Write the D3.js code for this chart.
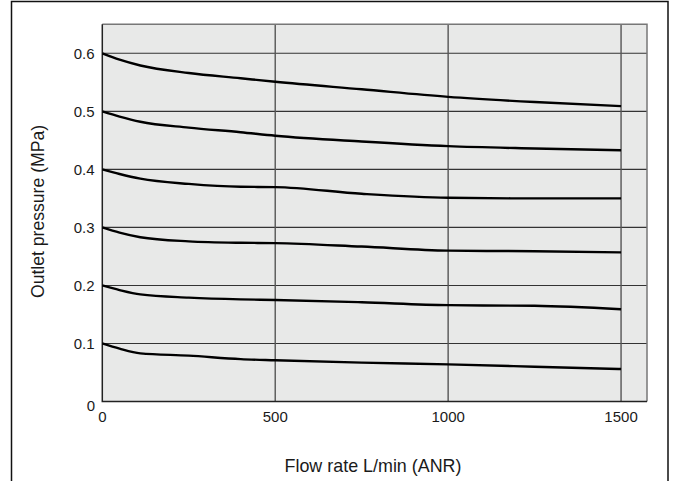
<!DOCTYPE html>
<html>
<head>
<meta charset="utf-8">
<script src="https://cdn.jsdelivr.net/npm/d3@7"></script>
<style>
  html, body { margin: 0; padding: 0; background: #fff; }
  svg { display: block; font-family: "Liberation Sans", Arial, Helvetica, sans-serif; }
</style>
</head>
<body>
<svg id="chart" width="676" height="481"></svg>
<script>
// ---- data ----
const flowRates = [0, 50, 110, 250, 400, 500, 750, 1000, 1250, 1500];
const curve06 = [0.600, 0.589, 0.579, 0.566, 0.557, 0.551, 0.538, 0.525, 0.516, 0.509];
const curve05 = [0.500, 0.491, 0.482, 0.472, 0.464, 0.458, 0.448, 0.440, 0.436, 0.433];
const curve04 = [0.400, 0.392, 0.384, 0.375, 0.370, 0.3695, 0.358, 0.351, 0.350, 0.350];
const curve03 = [0.300, 0.291, 0.283, 0.276, 0.2735, 0.273, 0.267, 0.260, 0.259, 0.257];
const curve02 = [0.200, 0.192, 0.1845, 0.179, 0.176, 0.175, 0.171, 0.166, 0.165, 0.159];
const curve01 = [0.100, 0.091, 0.083, 0.079, 0.073, 0.071, 0.067, 0.064, 0.060, 0.056];
const xTicks = [0, 500, 1000, 1500];
const yTicks = [0, 0.1, 0.2, 0.3, 0.4, 0.5, 0.6];
const xTitle = "Flow rate L/min (ANR)";
const yTitle = "Outlet pressure (MPa)";

const series = [curve06, curve05, curve04, curve03, curve02, curve01];

// ---- layout ----
const svg = d3.select("#chart");
const pL = 102.3, pR = 647, pT = 24.3, pB = 401.5;

const x = d3.scaleLinear().domain([0, 1575]).range([pL, pR]);
const y = d3.scaleLinear().domain([0, 0.65]).range([pB, pT]);

// outer frame (no bottom edge visible)
svg.append("path")
  .attr("d", `M11.5,481 L11.5,1.5 L668,1.5 L668,481`)
  .attr("fill", "none").attr("stroke", "#111").attr("stroke-width", 1.5);

// plot background
svg.append("rect")
  .attr("x", pL).attr("y", pT)
  .attr("width", pR - pL).attr("height", pB - pT)
  .attr("fill", "#e8e9e8");

// horizontal grid
svg.append("g").selectAll("line")
  .data(yTicks.filter(d => d > 0))
  .join("line")
  .attr("x1", pL).attr("x2", pR)
  .attr("y1", d => y(d)).attr("y2", d => y(d))
  .attr("stroke", "#333").attr("stroke-width", 1.1);

// vertical grid
svg.append("g").selectAll("line")
  .data(xTicks.filter(d => d > 0))
  .join("line")
  .attr("x1", d => x(d)).attr("x2", d => x(d))
  .attr("y1", pT).attr("y2", pB)
  .attr("stroke", "#555").attr("stroke-width", 1.4);

// plot border: top/right grey, left/bottom dark
svg.append("path")
  .attr("d", `M${pL},${pT} L${pR},${pT} L${pR},${pB}`)
  .attr("fill", "none").attr("stroke", "#777").attr("stroke-width", 1.5);
svg.append("path")
  .attr("d", `M${pL},${pT} L${pL},${pB} L${pR},${pB}`)
  .attr("fill", "none").attr("stroke", "#222").attr("stroke-width", 1.5);

// curves
const line = d3.line()
  .x((d, i) => x(flowRates[i]))
  .y(d => y(d))
  .curve(d3.curveMonotoneX);

svg.append("g").selectAll("path")
  .data(series)
  .join("path")
  .attr("d", d => line(d))
  .attr("fill", "none")
  .attr("stroke", "#000")
  .attr("stroke-width", 2.4)
  .attr("stroke-linejoin", "round");

// y tick labels
svg.append("g").selectAll("text")
  .data(yTicks)
  .join("text")
  .attr("x", d => d === 0 ? 95 : 94.5)
  .attr("y", d => d === 0 ? y(d) + 4 : y(d))
  .attr("dy", "0.35em")
  .attr("text-anchor", "end")
  .attr("font-size", 15)
  .attr("fill", "#1a1a1a")
  .text(d => d === 0 ? "0" : d3.format(".1f")(d));

// x tick labels
svg.append("g").selectAll("text")
  .data(xTicks)
  .join("text")
  .attr("x", d => x(d))
  .attr("y", 417)
  .attr("dy", "0.35em")
  .attr("text-anchor", "middle")
  .attr("font-size", 15)
  .attr("fill", "#1a1a1a")
  .text(d => d);

// axis titles
svg.append("text")
  .attr("x", 373).attr("y", 466)
  .attr("dy", "0.35em")
  .attr("text-anchor", "middle")
  .attr("font-size", 17.9)
  .attr("fill", "#1a1a1a")
  .text(xTitle);

svg.append("text")
  .attr("transform", `translate(38,${211.5}) rotate(-90)`)
  .attr("dy", "0.35em")
  .attr("text-anchor", "middle")
  .attr("font-size", 17.6)
  .attr("fill", "#1a1a1a")
  .text(yTitle);
</script>
</body>
</html>
